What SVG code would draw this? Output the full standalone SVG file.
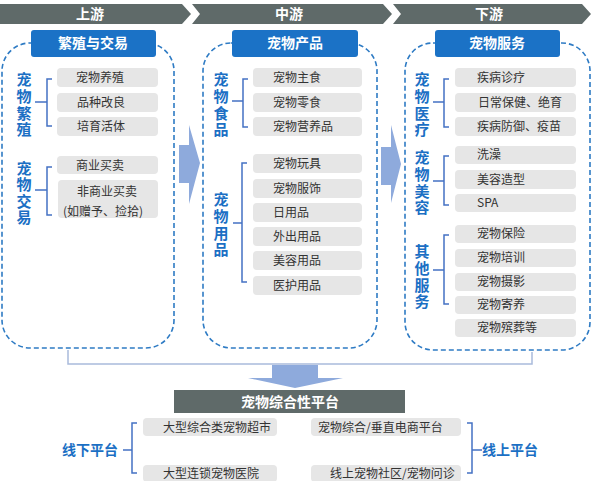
<svg xmlns="http://www.w3.org/2000/svg" width="600" height="481" viewBox="0 0 600 481">
<style>
.banner{fill:#5f6a69}
.bt{font-family:"Noto Sans CJK SC","Liberation Sans",sans-serif;font-size:14px;font-weight:bold;fill:#fff;text-anchor:middle}
.tbox{fill:#1b72c6}
.dash{fill:none;stroke:#2e7bc4;stroke-width:1.6;stroke-dasharray:5 3}
.item{fill:#e6e6e6}
.it{font-family:"Noto Sans CJK SC","Liberation Sans",sans-serif;font-size:12px;fill:#333}
.lab{font-family:"Noto Sans CJK SC","Liberation Sans",sans-serif;font-size:15px;font-weight:bold;fill:#1b6fc4;text-anchor:middle}
.vl{font-family:"Noto Sans CJK SC","Liberation Sans",sans-serif;font-size:15px;font-weight:bold;fill:#1b6fc4;writing-mode:vertical-rl;letter-spacing:1.7px}
.vs{letter-spacing:1.2px}
.br{fill:none;stroke:#4472c4;stroke-width:1.5}
.arr{fill:#8eaadc}
.conn{fill:none;stroke:#a9bbdb;stroke-width:1.5}
</style>

<g id="banners">
<polygon class="banner" points="0,4 182,4 191,14 182,24 0,24"/>
<polygon class="banner" points="192,4 383,4 392,14 383,24 192,24 200,14"/>
<polygon class="banner" points="393,4 582,4 591,14 582,24 393,24 401,14"/>
<text class="bt" x="90" y="19">上游</text>
<text class="bt" x="289" y="19">中游</text>
<text class="bt" x="489" y="19">下游</text>
</g>

<g id="upstream">
<rect class="dash" x="2" y="43" width="172" height="305" rx="28"/>
<rect class="tbox" x="31" y="30" width="125" height="27" rx="3"/>
<text class="bt" x="93" y="48">繁殖与交易</text>
<text class="vl" x="24" y="72">宠物繁殖</text>
<text class="vl vs" x="24" y="161">宠物交易</text>
<rect class="item" x="57" y="68" width="101" height="19" rx="4"/>
<rect class="item" x="57" y="93" width="101" height="19" rx="4"/>
<rect class="item" x="57" y="117" width="101" height="19" rx="4"/>
<rect class="item" x="57" y="156" width="101" height="18" rx="4"/>
<rect class="item" x="58" y="180" width="100" height="38" rx="4"/>
<text class="it" x="76" y="82">宠物养殖</text>
<text class="it" x="77" y="107">品种改良</text>
<text class="it" x="77" y="131">培育活体</text>
<text class="it" x="76" y="170">商业买卖</text>
<text class="it" x="77" y="196">非商业买卖</text>
<text class="it" x="63" y="216">(如赠予、捡拾)</text>
</g>

<g id="midstream">
<rect class="dash" x="203" y="43" width="174" height="305" rx="28"/>
<rect class="tbox" x="232" y="30" width="126" height="27" rx="3"/>
<text class="bt" x="295" y="48">宠物产品</text>
<text class="vl" x="221" y="72">宠物食品</text>
<text class="vl" x="221" y="192">宠物用品</text>
<rect class="item" x="253" y="68" width="109" height="19" rx="4"/>
<rect class="item" x="253" y="93" width="109" height="19" rx="4"/>
<rect class="item" x="253" y="117" width="109" height="19" rx="4"/>
<rect class="item" x="253" y="154" width="109" height="19" rx="4"/>
<rect class="item" x="253" y="179" width="109" height="19" rx="4"/>
<rect class="item" x="253" y="203" width="109" height="19" rx="4"/>
<rect class="item" x="253" y="227" width="109" height="19" rx="4"/>
<rect class="item" x="253" y="251" width="109" height="19" rx="4"/>
<rect class="item" x="253" y="276" width="109" height="19" rx="4"/>
<text class="it" x="273" y="82">宠物主食</text>
<text class="it" x="273" y="107">宠物零食</text>
<text class="it" x="273" y="131">宠物营养品</text>
<text class="it" x="273" y="168">宠物玩具</text>
<text class="it" x="273" y="193">宠物服饰</text>
<text class="it" x="273" y="217">日用品</text>
<text class="it" x="273" y="241">外出用品</text>
<text class="it" x="273" y="265">美容用品</text>
<text class="it" x="273" y="290">医护用品</text>
</g>

<g id="downstream">
<rect class="dash" x="405" y="43" width="185" height="307" rx="28"/>
<rect class="tbox" x="435" y="30" width="125" height="27" rx="3"/>
<text class="bt" x="497" y="48">宠物服务</text>
<text class="vl" x="422" y="72">宠物医疗</text>
<text class="vl" x="422" y="150">宠物美容</text>
<text class="vl" x="422" y="244">其他服务</text>
<rect class="item" x="455" y="68" width="121" height="19" rx="4"/>
<rect class="item" x="455" y="93" width="121" height="19" rx="4"/>
<rect class="item" x="455" y="117" width="121" height="19" rx="4"/>
<rect class="item" x="455" y="146" width="121" height="18" rx="4"/>
<rect class="item" x="455" y="170" width="121" height="19" rx="4"/>
<rect class="item" x="455" y="194" width="121" height="18" rx="4"/>
<rect class="item" x="455" y="225" width="121" height="18" rx="4"/>
<rect class="item" x="455" y="249" width="121" height="18" rx="4"/>
<rect class="item" x="455" y="273" width="121" height="18" rx="4"/>
<rect class="item" x="455" y="296" width="121" height="18" rx="4"/>
<rect class="item" x="455" y="319" width="121" height="18" rx="4"/>
<text class="it" x="477" y="82">疾病诊疗</text>
<text class="it" x="478" y="107">日常保健、绝育</text>
<text class="it" x="477" y="131">疾病防御、疫苗</text>
<text class="it" x="477" y="159">洗澡</text>
<text class="it" x="477" y="184">美容造型</text>
<text class="it" x="477" y="207">SPA</text>
<text class="it" x="477" y="238">宠物保险</text>
<text class="it" x="477" y="262">宠物培训</text>
<text class="it" x="477" y="286">宠物摄影</text>
<text class="it" x="477" y="309">宠物寄养</text>
<text class="it" x="477" y="332">宠物殡葬等</text>
</g>

<g id="platform">
<rect x="174" y="390" width="231" height="23" fill="#5f6a69"/>
<text class="bt" x="290" y="407">宠物综合性平台</text>
</g>

<g id="offline">
<text class="lab" x="90" y="455" style="font-size:14px">线下平台</text>
<rect class="item" x="143" y="418" width="134" height="18" rx="4"/>
<rect class="item" x="143" y="465" width="134" height="17" rx="4"/>
<text class="it" x="163" y="432">大型综合类宠物超市</text>
<text class="it" x="163" y="478">大型连锁宠物医院</text>
</g>

<g id="online">
<text class="lab" x="510" y="455" style="font-size:14px">线上平台</text>
<rect class="item" x="311" y="418" width="150" height="18" rx="4"/>
<rect class="item" x="311" y="465" width="150" height="17" rx="4"/>
<text class="it" x="318" y="432">宠物综合/垂直电商平台</text>
<text class="it" x="330" y="478">线上宠物社区/宠物问诊</text>
</g>

<g id="connectors">
<path class="br" d="M52,79 H47 V126 H52 M35,102 H47"/>
<path class="br" d="M52,167 H47 V215 H52 M35,190 H47"/>
<path class="br" d="M248,79 H243 V127 H248 M232,101 H243"/>
<path class="br" d="M247,163 H242 V282 H247 M233,223 H242"/>
<path class="br" d="M449,79 H444 V127 H449 M433,102 H444"/>
<path class="br" d="M449,156 H444 V205 H449 M433,181 H444"/>
<path class="br" d="M449,235 H444 V304 H449 M433,270 H444"/>
<path class="br" d="M137,423 H132 V473 H137 M123,450 H132"/>
<path class="br" d="M467,423 H472 V473 H467 M472,450 H482"/>
<polygon class="arr" points="179,145 189,145 189,125 200,163 189,204 189,183 179,183"/>
<polygon class="arr" points="381,147 391,147 391,125 401,164 391,203 391,185 381,185"/>
<path class="conn" d="M68,350 V364 H532 V352"/>
<polygon class="arr" points="272,365 318,365 318,378 343,378 295,388 248,378 272,378"/>
</g>
</svg>
